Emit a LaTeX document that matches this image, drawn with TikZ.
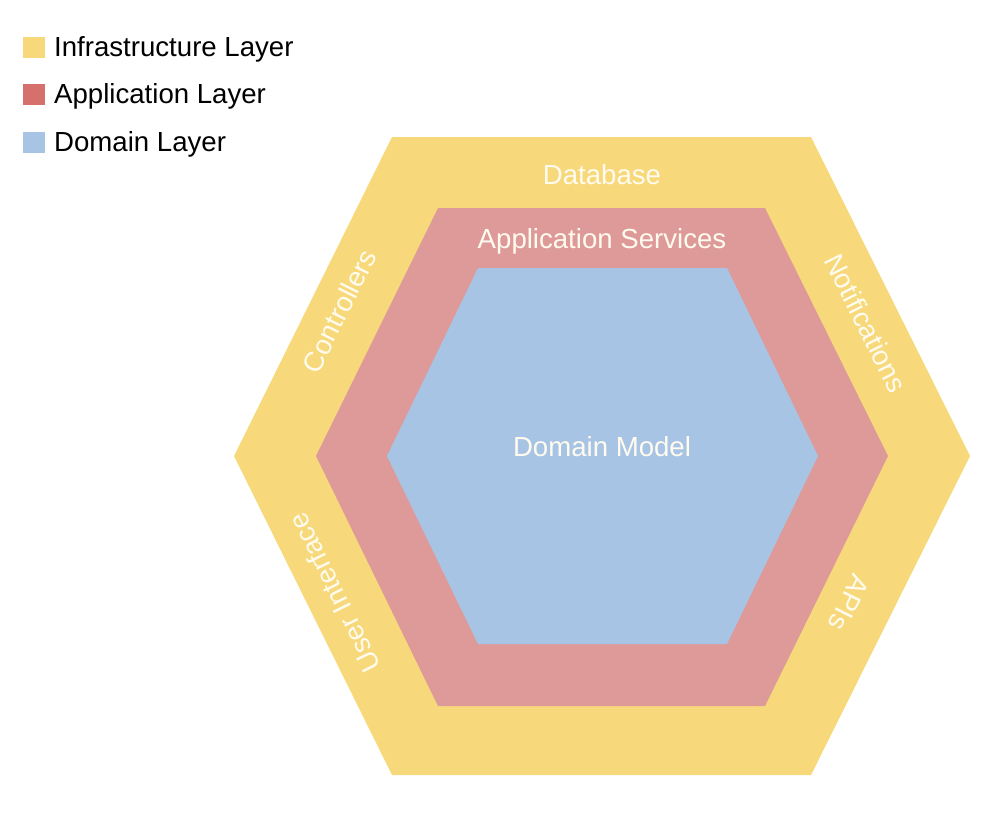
\documentclass[tikz,border=0pt]{standalone}
\usepackage{fontspec}
\setmainfont{Liberation Sans}
\definecolor{infra}{HTML}{F7D97B}
\definecolor{appl}{HTML}{DD9A99}
\definecolor{appleg}{HTML}{D6706C}
\definecolor{dom}{HTML}{A8C4E4}
\definecolor{lbl}{HTML}{FFFBEF}
\begin{document}
\begin{tikzpicture}[x=1pt,y=-1pt,
  legbox/.style={minimum width=22pt,minimum height=21pt,inner sep=0pt,draw=none},
  legtext/.style={anchor=west,font=\fontsize{27.6}{30}\selectfont,text=black,inner sep=0pt},
  hexlabel/.style={font=\fontsize{27.6}{30}\selectfont,text=lbl,inner sep=0pt}]
\useasboundingbox (0,0) rectangle (1000,812);
% hexagons
\fill[infra] (392,137) -- (811,137) -- (970,456) -- (811,775) -- (392,775) -- (234,456) -- cycle;
\fill[appl] (438,208) -- (765,208) -- (888,456) -- (765,706) -- (438,706) -- (316,456) -- cycle;
\fill[dom] (478,268) -- (727,268) -- (818,456) -- (727,644) -- (478,644) -- (387,456) -- cycle;
% legend
\node[legbox,fill=infra] (l1) at (34,47.5) {};
\node[legbox,fill=appleg] (l2) at (34,94) {};
\node[legbox,fill=dom] (l3) at (34,142.5) {};
\node[legtext] (t1) at (54,49) {Infrastructure Layer};
\node[legtext] (t2) at (54,96) {Application Layer};
\node[legtext] (t3) at (54,144) {Domain Layer};
% labels
\node[hexlabel] (db) at (602,175) {Database};
\node[hexlabel] (as) at (602,241) {Application Services};
\node[hexlabel] (dm) at (602,447) {Domain Model};
\node[hexlabel,rotate=63.6] (ctl) at (339,311) {Controllers};
\node[hexlabel,rotate=-63.6] (nt) at (866,323) {Notifications};
\node[hexlabel,rotate=116.4] (ui) at (334,593) {User Interface};
\node[hexlabel,rotate=-116.4] (api) at (849,603) {APIs};
\end{tikzpicture}
\end{document}
